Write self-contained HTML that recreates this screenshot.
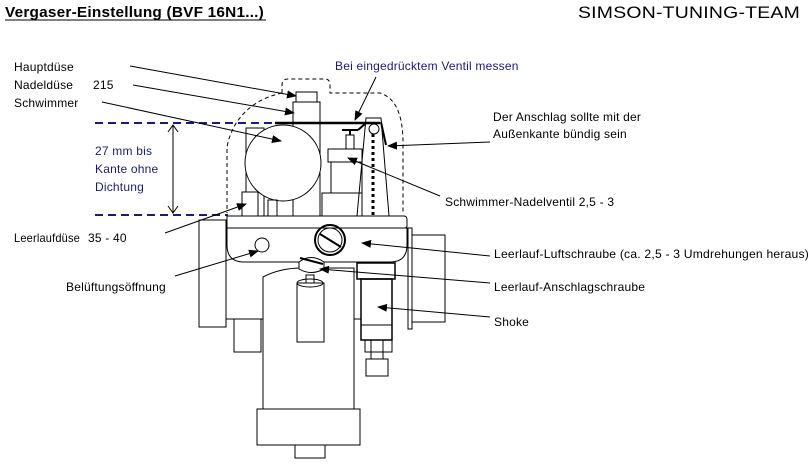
<!DOCTYPE html>
<html><head><meta charset="utf-8"><style>
html,body{margin:0;padding:0;background:#fff;}
svg{display:block;}
text{font-family:"Liberation Sans",Arial,sans-serif;font-size:12px;fill:#000;letter-spacing:0.2px;}
</style></head><body>
<svg width="810" height="469" viewBox="0 0 810 469" xmlns="http://www.w3.org/2000/svg">
<defs>
<marker id="a" markerWidth="10" markerHeight="8" refX="9" refY="4" orient="auto" markerUnits="userSpaceOnUse"><path d="M0,0 L10,4 L0,8z" fill="#000"/></marker>
</defs>
<text x="5" y="17" textLength="259" lengthAdjust="spacingAndGlyphs" style="font-size:15px;font-weight:bold">Vergaser-Einstellung (BVF 16N1...)</text>
<line x1="5" y1="20" x2="266" y2="20" stroke="#000" stroke-width="1"/>
<text x="578" y="18" textLength="222" lengthAdjust="spacingAndGlyphs" style="font-size:17px">SIMSON-TUNING-TEAM</text>

<text x="14" y="71">Hauptdüse</text>
<text x="14" y="89">Nadeldüse</text><text x="93" y="89">215</text>
<text x="14" y="107">Schwimmer</text>
<text x="95" y="155" style="fill:#1a1a7a">27 mm bis</text>
<text x="95" y="173" style="fill:#1a1a7a">Kante ohne</text>
<text x="95" y="191" style="fill:#1a1a7a">Dichtung</text>
<text x="14" y="242" textLength="66" lengthAdjust="spacingAndGlyphs">Leerlaufdüse</text><text x="88" y="242">35 - 40</text>
<text x="66" y="291">Belüftungsöffnung</text>
<text x="335" y="70" style="fill:#1a1a7a">Bei eingedrücktem Ventil messen</text>
<text x="493" y="121">Der Anschlag sollte mit der</text>
<text x="493" y="138">Außenkante bündig sein</text>
<text x="445" y="206">Schwimmer-Nadelventil 2,5 - 3</text>
<text x="494" y="258" textLength="315" lengthAdjust="spacingAndGlyphs">Leerlauf-Luftschraube (ca. 2,5 - 3 Umdrehungen heraus)</text>
<text x="494" y="291">Leerlauf-Anschlagschraube</text>
<text x="494" y="326">Shoke</text>

<g fill="none" stroke="#000" stroke-width="1">
<path d="M282,93 L282,85 Q282,79 288,79 L325,79 Q330,79 330,85 L330,93 L380,93 Q403,100 403,143 L403,213" stroke-dasharray="4,3"/>
<path d="M282,93 Q250,100 235,125 Q227,140 227,150 L227,213" stroke-dasharray="4,3"/>
<line x1="95" y1="123" x2="275" y2="123" stroke="#1a1a7a" stroke-width="2" stroke-dasharray="8,5"/>
<line x1="95" y1="215" x2="228" y2="215" stroke="#1a1a7a" stroke-width="2" stroke-dasharray="8,5"/>
<line x1="173" y1="125" x2="173" y2="213"/>
<path d="M168,132 L173,125 L178,132 M168,206 L173,213 L178,206"/>
<rect x="246" y="128" width="18" height="88"/>
<rect x="296" y="92" width="21" height="10"/>
<rect x="293" y="102" width="27" height="114"/>
<circle cx="283" cy="163" r="38" fill="#fff"/>
<rect x="242" y="192" width="16" height="24" fill="#fff"/>
<rect x="268" y="200" width="9" height="16"/>
<line x1="275" y1="123" x2="380" y2="123" stroke-width="2.5"/>
<path d="M366,118 L381,118 L389,216 L357,216 Z"/>
<line x1="373" y1="134" x2="373" y2="216" stroke-width="3" stroke-dasharray="3,3"/>
<circle cx="374" cy="129" r="5"/>
<line x1="381" y1="122" x2="386" y2="145" stroke-width="2"/>
<rect x="328" y="149" width="34" height="13"/>
<rect x="331" y="162" width="31" height="31"/>
<rect x="322" y="193" width="40" height="23"/>
<rect x="346" y="135" width="8" height="14"/>
<line x1="342" y1="130" x2="358" y2="130" stroke-width="2"/>
<line x1="350" y1="130" x2="350" y2="135" stroke-width="2"/>
<line x1="358" y1="130" x2="366" y2="123" stroke-width="2"/>
<rect x="199" y="220" width="27" height="107"/>
<rect x="234" y="319" width="27" height="33"/>
<path d="M227,216 L404,216 Q407,216 407,220 L407,226 Q407,228 404,228 L227,228 Z"/>
<path d="M227,228 L407,228 L407,245 Q407,262 390,262 L244,262 Q227,262 227,245 Z"/>
<line x1="226" y1="319" x2="263" y2="319"/>
<line x1="354" y1="319" x2="361" y2="319"/>
<rect x="408" y="228" width="4" height="101"/>
<rect x="412" y="235" width="33" height="87"/>
<circle cx="330" cy="240" r="15" stroke-width="2"/>
<circle cx="330" cy="240" r="12"/>
<line x1="320" y1="234" x2="341" y2="247" stroke-width="2"/>
<circle cx="262" cy="245" r="7"/>
<path d="M263,409 L263,277 Q280,268 302,268 M320,268 L354,268 L354,409"/>
<rect x="257" y="409" width="103" height="36"/>
<rect x="295" y="445" width="30" height="13"/>
<rect x="297" y="283" width="27" height="59"/>
<ellipse cx="310" cy="283" rx="13" ry="4"/>
<rect x="306" y="275" width="8" height="8"/>
<path d="M299,262 Q311,253 324,262 L324,269 Q311,276 299,269 Z" fill="#fff"/>
<line x1="300" y1="258" x2="323" y2="264" stroke-width="2"/>
<rect x="357" y="263" width="38" height="16" stroke-width="1.5"/>
<rect x="361" y="279" width="31" height="61" stroke-width="1.5"/>
<line x1="361" y1="325" x2="392" y2="325"/>
<rect x="365" y="340" width="27" height="12"/>
<rect x="371" y="340" width="12" height="19"/>
<rect x="366" y="359" width="22" height="17"/>
</g>
<g stroke="#000" stroke-width="1" marker-end="url(#a)">
<line x1="130" y1="66" x2="296" y2="96"/>
<line x1="133" y1="85" x2="294" y2="113"/>
<line x1="102" y1="102" x2="281" y2="141"/>
<line x1="376" y1="77" x2="355" y2="120"/>
<line x1="490" y1="142" x2="388" y2="146"/>
<line x1="440" y1="196" x2="348" y2="158"/>
<line x1="165" y1="233" x2="246" y2="204"/>
<line x1="175" y1="276" x2="258" y2="251"/>
<line x1="490" y1="256" x2="362" y2="243"/>
<line x1="490" y1="283" x2="320" y2="269"/>
<line x1="490" y1="317" x2="378" y2="307"/>
</g>
</svg>
</body></html>
